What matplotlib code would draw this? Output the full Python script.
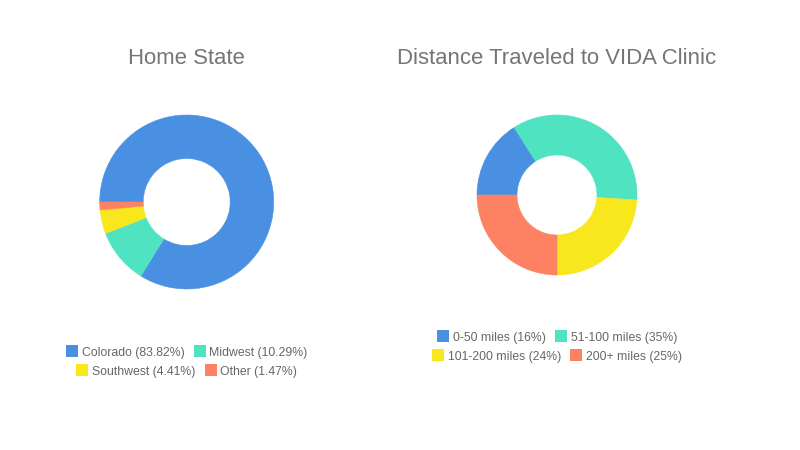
import matplotlib.pyplot as plt
from matplotlib.patches import Patch

plt.rcParams['font.family'] = ['Liberation Sans', 'DejaVu Sans']

# data
home_labels = ['Colorado', 'Midwest', 'Southwest', 'Other']
home_values = [83.82, 10.29, 4.41, 1.47]
home_legend = ['Colorado (83.82%)', 'Midwest (10.29%)', 'Southwest (4.41%)', 'Other (1.47%)']

dist_labels = ['0-50 miles', '51-100 miles', '101-200 miles', '200+ miles']
dist_values = [16, 35, 24, 25]
dist_legend = ['0-50 miles (16%)', '51-100 miles (35%)', '101-200 miles (24%)', '200+ miles (25%)']

colors = ['#4A90E2', '#50E3C2', '#F8E71C', '#FD8264']

W, H = 800, 450
fig = plt.figure(figsize=(8, 4.5), dpi=100)
fig.patch.set_facecolor('white')


def donut(cx, cy, r, values, names, title, legend_y):
    ax = fig.add_axes([(cx - r) / W, 1 - (cy + r) / H, 2 * r / W, 2 * r / H])
    wedges, _ = ax.pie(values, colors=colors, startangle=180, counterclock=False,
                       radius=1, wedgeprops=dict(width=0.5, linewidth=0.4))
    for w in wedges:
        w.set_edgecolor(w.get_facecolor())
    ax.set_xlim(-1, 1)
    ax.set_ylim(-1, 1)
    ax.set_aspect('equal')
    ax.axis('off')
    fig.text(cx / W, 1 - 64 / H, title, ha='center', va='baseline',
             fontsize=15.9, color='#757575')
    # each legend row is centred on its own
    for row, ly in zip([(0, 1), (2, 3)], legend_y):
        handles = [Patch(facecolor=colors[k], edgecolor='none') for k in row]
        leg = fig.legend(handles, [names[k] for k in row], loc='center', ncol=2,
                         bbox_to_anchor=(cx / W, 1 - ly / H), frameon=False,
                         fontsize=8.8, handlelength=1.0, handleheight=1.1,
                         handletextpad=0.3, columnspacing=0.75, borderpad=0)
        for t in leg.get_texts():
            t.set_color('#666666')


donut(186.7, 202, 87, home_values, home_legend, 'Home State', [352, 371])
donut(557, 195, 80, dist_values, dist_legend, 'Distance Traveled to VIDA Clinic', [337, 356])

fig.savefig('out.png', dpi=100, facecolor='white')
